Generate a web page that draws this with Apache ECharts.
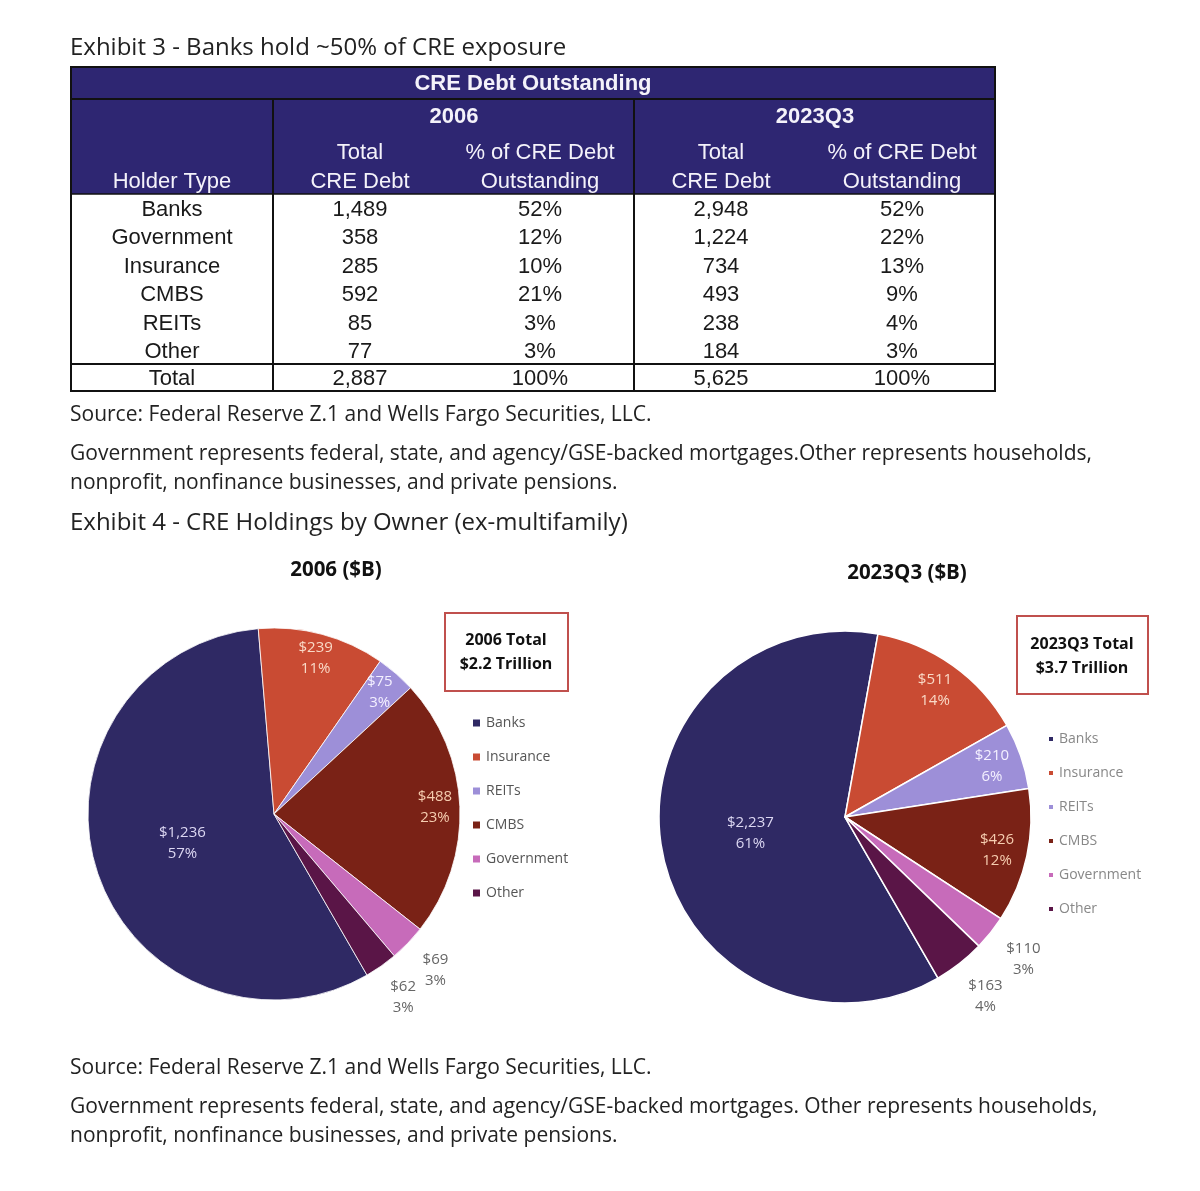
<!DOCTYPE html>
<html>
<head>
<meta charset="utf-8">
<script src="https://cdn.jsdelivr.net/npm/echarts@6/dist/echarts.min.js"></script>
<style>
html,body{margin:0;padding:0;background:#fff;}
#main{width:1200px;height:1191px;}
</style>
</head>
<body>
<div id="main"></div>
<script>
// ---------- Exhibit 3 table data ----------
const tableHolders = ['Banks', 'Government', 'Insurance', 'CMBS', 'REITs', 'Other'];
const table2006Total = ['1,489', '358', '285', '592', '85', '77'];
const table2006Pct = ['52%', '12%', '10%', '21%', '3%', '3%'];
const table2023Total = ['2,948', '1,224', '734', '493', '238', '184'];
const table2023Pct = ['52%', '22%', '13%', '9%', '4%', '3%'];
const tableTotalRow = ['Total', '2,887', '100%', '5,625', '100%'];
const tablePeriods = ['2006', '2023Q3'];

// ---------- Exhibit 4 pie data ----------
const pieCategories = ['Banks', 'Insurance', 'REITs', 'CMBS', 'Government', 'Other'];
const pie2006Values = [1236, 239, 75, 488, 69, 62];
const pie2006Pcts = ['57%', '11%', '3%', '23%', '3%', '3%'];
const pie2023Values = [2237, 511, 210, 426, 110, 163];
const pie2023Pcts = ['61%', '14%', '6%', '12%', '3%', '4%'];
const pieTotals = ['2006 Total\n$2.2 Trillion', '2023Q3 Total\n$3.7 Trillion'];

// ---------- texts ----------
const exhibit3Title = 'Exhibit 3 - Banks hold ~50% of CRE exposure';
const exhibit4Title = 'Exhibit 4 - CRE Holdings by Owner (ex-multifamily)';
const sourceLine = 'Source: Federal Reserve Z.1 and Wells Fargo Securities, LLC.';
const note1Line1 = 'Government represents federal, state, and agency/GSE-backed mortgages.Other represents households,';
const note2Line1 = 'Government represents federal, state, and agency/GSE-backed mortgages. Other represents households,';
const noteLine2 = 'nonprofit, nonfinance businesses, and private pensions.';

// ---------- styles ----------
const sliceColors = ['#2f2964', '#c94b33', '#9d8fd8', '#7a2216', '#c76bba', '#5a1547'];
const labelColors = ['#dcd7f2', '#f9d9c6', '#f4f0ff', '#f6cdb0', '#666666', '#666666'];
const bodyFont = '"Open Sans", "Noto Sans", sans-serif';
const tableFont = '"Liberation Sans", Arial, sans-serif';
const headerFill = '#2e2672';

const chart = echarts.init(document.getElementById('main'), null, {renderer: 'canvas'});

function txt(x, y, text, o) {
  o = o || {};
  return {
    type: 'text', x: x, y: y, z: 10,
    style: {
      text: text,
      fill: o.fill || '#222',
      fontSize: o.size || 21,
      fontFamily: o.family || bodyFont,
      fontWeight: o.weight || 'normal',
      align: o.align || 'left',
      verticalAlign: 'middle',
      lineHeight: o.lineHeight
    }
  };
}
function line(x1, y1, x2, y2, w, c) {
  return {type: 'line', z: 11, shape: {x1: x1, y1: y1, x2: x2, y2: y2},
    style: {stroke: c || '#111', lineWidth: w || 2}};
}

// ----- table layout -----
const T = {x0: 71, x1: 273, x2: 634, x3: 995, y0: 67, yA: 99, yH: 194, yTot: 364, y1: 391};
const colX = [172, 360, 540, 721, 902];
const rowY0 = 210, rowStep = 28.4;
const g = [];
g.push(txt(70, 48, exhibit3Title, {size: 24}));
g.push({type: 'rect', z: 9, shape: {x: T.x0, y: T.y0, width: T.x3 - T.x0, height: T.yH - T.y0},
  style: {fill: headerFill}});
g.push({type: 'rect', z: 11, shape: {x: T.x0, y: T.y0, width: T.x3 - T.x0, height: T.y1 - T.y0},
  style: {fill: 'none', stroke: '#111', lineWidth: 2}});
g.push(line(T.x0, T.yA, T.x3, T.yA, 2, '#111'));
g.push(line(T.x1, T.yA, T.x1, T.y1, 2));
g.push(line(T.x2, T.yA, T.x2, T.y1, 2));
g.push(line(T.x0, T.yH, T.x3, T.yH, 1.5));
g.push(line(T.x0, T.yTot, T.x3, T.yTot, 2));
const hdr = {fill: '#f4f2fa', size: 22, family: tableFont, align: 'center'};
g.push(txt(533, 84, 'CRE Debt Outstanding', Object.assign({}, hdr, {weight: 'bold'})));
g.push(txt(454, 117, tablePeriods[0], Object.assign({}, hdr, {weight: 'bold'})));
g.push(txt(815, 117, tablePeriods[1], Object.assign({}, hdr, {weight: 'bold'})));
g.push(txt(colX[0], 182, 'Holder Type', hdr));
[1, 3].forEach(function (c) {
  g.push(txt(colX[c], 153, 'Total', hdr));
  g.push(txt(colX[c], 182, 'CRE Debt', hdr));
  g.push(txt(colX[c + 1], 153, '% of CRE Debt', hdr));
  g.push(txt(colX[c + 1], 182, 'Outstanding', hdr));
});
const body = {fill: '#1a1a1a', size: 22, family: tableFont, align: 'center'};
const cols = [tableHolders, table2006Total, table2006Pct, table2023Total, table2023Pct];
tableHolders.forEach(function (h, r) {
  cols.forEach(function (col, c) {
    g.push(txt(colX[c], rowY0 + r * rowStep, col[r], body));
  });
});
tableTotalRow.forEach(function (v, c) { g.push(txt(colX[c], 379, v, body)); });

g.push(txt(70, 415, sourceLine));
g.push(txt(70, 454, note1Line1));
g.push(txt(70, 483, noteLine2));
g.push(txt(70, 523, exhibit4Title, {size: 24}));

// pie titles
g.push(txt(336, 570, '2006 ($B)', {size: 20.5, weight: 'bold', align: 'center', fill: '#111'}));
g.push(txt(907, 573, '2023Q3 ($B)', {size: 20.5, weight: 'bold', align: 'center', fill: '#111'}));
// total boxes
g.push({type: 'rect', z: 10, shape: {x: 445, y: 613, width: 123, height: 78},
  style: {fill: '#fff', stroke: '#c0504d', lineWidth: 2}});
g.push(txt(506, 652, pieTotals[0], {size: 16, weight: 'bold', align: 'center', fill: '#111', lineHeight: 24}));
g.push({type: 'rect', z: 10, shape: {x: 1017, y: 616, width: 131, height: 78},
  style: {fill: '#fff', stroke: '#c0504d', lineWidth: 2}});
g.push(txt(1082, 656, pieTotals[1], {size: 16, weight: 'bold', align: 'center', fill: '#111', lineHeight: 24}));

g.push(txt(70, 1068, sourceLine));
g.push(txt(70, 1107, note2Line1));
g.push(txt(70, 1136, noteLine2));

// ----- pies -----
function pieData(values, pcts, showIdx, transparent) {
  return pieCategories.map(function (name, i) {
    return {
      name: name,
      value: values[i],
      pct: pcts[i],
      itemStyle: transparent ? {color: 'rgba(0,0,0,0)', borderWidth: 0} : {color: sliceColors[i]},
      label: {show: showIdx.indexOf(i) >= 0, color: labelColors[i]}
    };
  });
}
function fmt(p) {
  return '$' + p.value.toLocaleString('en-US') + '\n' + p.data.pct;
}
function makePie(id, values, pcts, center, R, innerFrac, outerRange, borderW) {
  const common = {
    type: 'pie', center: center, startAngle: -60, clockwise: true,
    animation: false, avoidLabelOverlap: false,
    labelLine: {show: false},
    emphasis: {disabled: true}
  };
  const lab = {position: 'inside', fontSize: 15, lineHeight: 21, fontFamily: bodyFont, formatter: fmt};
  return [
    Object.assign({}, common, {
      id: id + 'main', radius: [0, R],
      itemStyle: {borderColor: '#fff', borderWidth: borderW},
      label: lab,
      data: pieData(values, pcts, [0], false)
    }),
    Object.assign({}, common, {
      id: id + 'inner', radius: [R * innerFrac, R], silent: true, z: 3,
      label: lab,
      data: pieData(values, pcts, [1, 2, 3], true)
    }),
    Object.assign({}, common, {
      id: id + 'outer', radius: [R * outerRange[0], R * outerRange[1]], silent: true, z: 3,
      label: lab,
      data: pieData(values, pcts, [4, 5], true)
    })
  ];
}

const series = []
  .concat(makePie('p06', pie2006Values, pie2006Pcts, [274, 814], 186, 0.70, [1.10, 1.28], 0.8))
  .concat(makePie('p23', pie2023Values, pie2023Pcts, [845, 817], 186, 0.64, [1.12, 1.30], 1.5));

const option = {
  backgroundColor: '#fff',
  animation: false,
  legend: [
    {
      orient: 'vertical', left: 466, top: 710,
      data: pieCategories, icon: 'rect', itemWidth: 9, itemHeight: 9, itemGap: 18,
      selectedMode: false,
      textStyle: {fontSize: 14, color: '#555', fontFamily: bodyFont, lineHeight: 16}
    },
    {
      orient: 'vertical', left: 1042, top: 726,
      data: pieCategories, icon: 'rect', itemWidth: 6, itemHeight: 6, itemGap: 18,
      selectedMode: false,
      textStyle: {fontSize: 14, color: '#888', fontFamily: bodyFont, lineHeight: 16}
    }
  ],
  graphic: g,
  series: series
};
chart.setOption(option);
</script>
</body>
</html>
